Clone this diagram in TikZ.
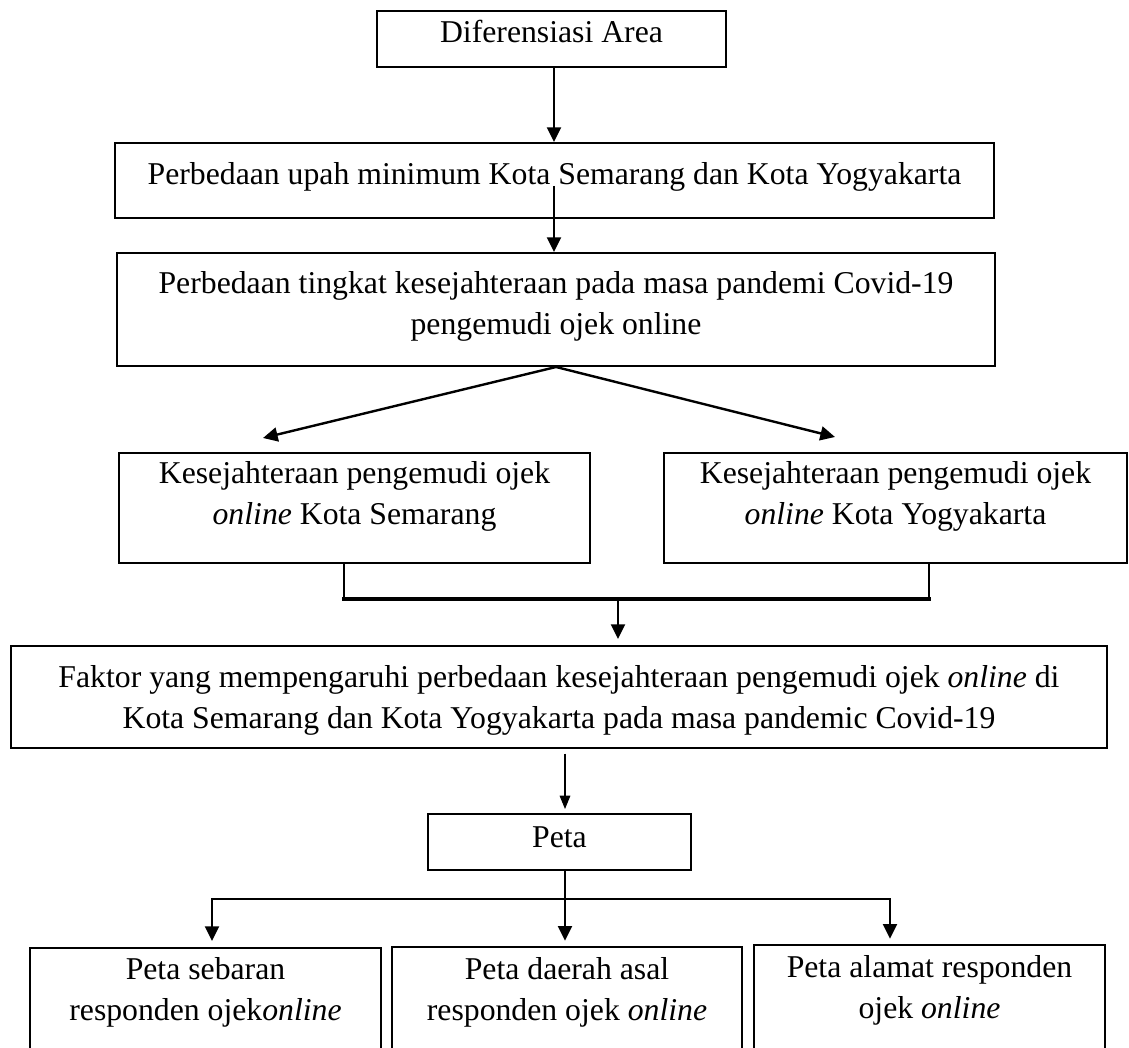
\documentclass[tikz,border=0pt]{standalone}
\usepackage{fontspec}
\setmainfont{Liberation Serif}
\usetikzlibrary{arrows.meta}

\begin{document}
\begin{tikzpicture}[
		x=0.75pt, y=-0.75pt,
		every node/.style={font=\fontsize{23.8pt}{31pt}\selectfont},
		box/.style={rectangle, draw, line width=1.5pt, inner sep=0pt, align=center},
		arr/.style={-{Triangle[length=11pt, width=10.5pt]}, line width=1.5pt},
		thinarr/.style={-{Triangle[length=10pt, width=8pt]}, line width=0.8pt},
		joinline/.style={line width=2pt, line cap=rect}
	]
  \useasboundingbox (0,0) rectangle (1129,1048);
  \node (area) [box, minimum width=261.75pt, minimum height=42pt, text height=16pt, text depth=10pt] at (551.5,39) {Diferensiasi Area};
  \node (upah) [box, minimum width=659.25pt, minimum height=56.25pt, text height=16pt, text depth=9.25pt] at (554.5,180.5) {Perbedaan upah minimum Kota Semarang dan Kota Yogyakarta};
  \node (tingkat) [box, minimum width=658.5pt, minimum height=84.75pt, text height=37.5pt, text depth=0pt] at (556,309.5) {Perbedaan tingkat kesejahteraan pada masa pandemi Covid-19\\pengemudi ojek online};
  \node (smg) [box, minimum width=353.25pt, minimum height=82.5pt, text height=24.75pt, text depth=0pt] at (354.5,508) {Kesejahteraan pengemudi ojek\\\textit{online} Kota Semarang};
  \node (ygy) [box, minimum width=347.25pt, minimum height=82.5pt, text height=24.75pt, text depth=0pt] at (895.5,508) {Kesejahteraan pengemudi ojek\\\textit{online} Kota Yogyakarta};
  \node (faktor) [box, minimum width=822pt, minimum height=76.5pt, text height=47.25pt, text depth=0pt] at (559,697) {Faktor yang mempengaruhi perbedaan kesejahteraan pengemudi ojek \textit{online} di\\Kota Semarang dan Kota Yogyakarta pada masa pandemic Covid-19};
  \node (peta) [box, minimum width=197.25pt, minimum height=42pt, text height=16pt, text depth=8.5pt] at (559.5,842) {Peta};
  \node (sebaran) [box, minimum width=263.25pt, minimum height=90pt, text height=18.75pt, text depth=0pt] at (205.5,1008) {Peta sebaran\\responden ojek\textit{online}};
  \node (asal) [box, minimum width=262.5pt, minimum height=90pt, text height=20.25pt, text depth=0pt] at (567,1007) {Peta daerah asal\\responden ojek \textit{online}};
  \node (alamat) [box, minimum width=263.25pt, minimum height=90pt, text height=20.25pt, text depth=0pt] at (929.5,1005) {Peta alamat responden\\ojek \textit{online}};
  \coordinate (upahmid) at (554,186);
  \coordinate (tipsmg) at (263,438);
  \coordinate (tipygy) at (835,437);
  \coordinate (joinL) at (344,599);
  \coordinate (joinM) at (618,599);
  \coordinate (joinR) at (929,599);
  \coordinate (split) at (565,899);
  \coordinate (brL) at (212,899);
  \coordinate (brR) at (890,899);
  \draw [arr] (area.south -| upahmid) -- (upah.north -| upahmid);
  \draw [arr] (upahmid) -- (tingkat.north -| upahmid);
  \draw [arr, line width=1.8pt] (tingkat.south) -- (tipsmg);
  \draw [arr, line width=1.8pt] (tingkat.south) -- (tipygy);
  \draw [joinline, line cap=butt] (joinL |- smg.south) -- (joinL);
  \draw [joinline, line cap=butt] (joinR |- ygy.south) -- (joinR);
  \draw [joinline, line width=3pt] (joinL) -- (joinR);
  \draw [arr, shorten >=4.5pt] (joinM) -- (joinM |- faktor.north);
  \draw [thinarr, shorten <=3.5pt, shorten >=3pt] (faktor.south -| split) -- (peta.north -| split);
  \draw [line width=1.5pt] (peta.south -| split) -- (split);
  \draw [joinline] (brL) -- (brR);
  \draw [arr, shorten >=4.5pt] (brL) -- (brL |- sebaran.north);
  \draw [arr, shorten >=4pt] (split) -- (split |- asal.north);
  \draw [arr, shorten >=4pt] (brR) -- (brR |- alamat.north);
\end{tikzpicture}
\end{document}
